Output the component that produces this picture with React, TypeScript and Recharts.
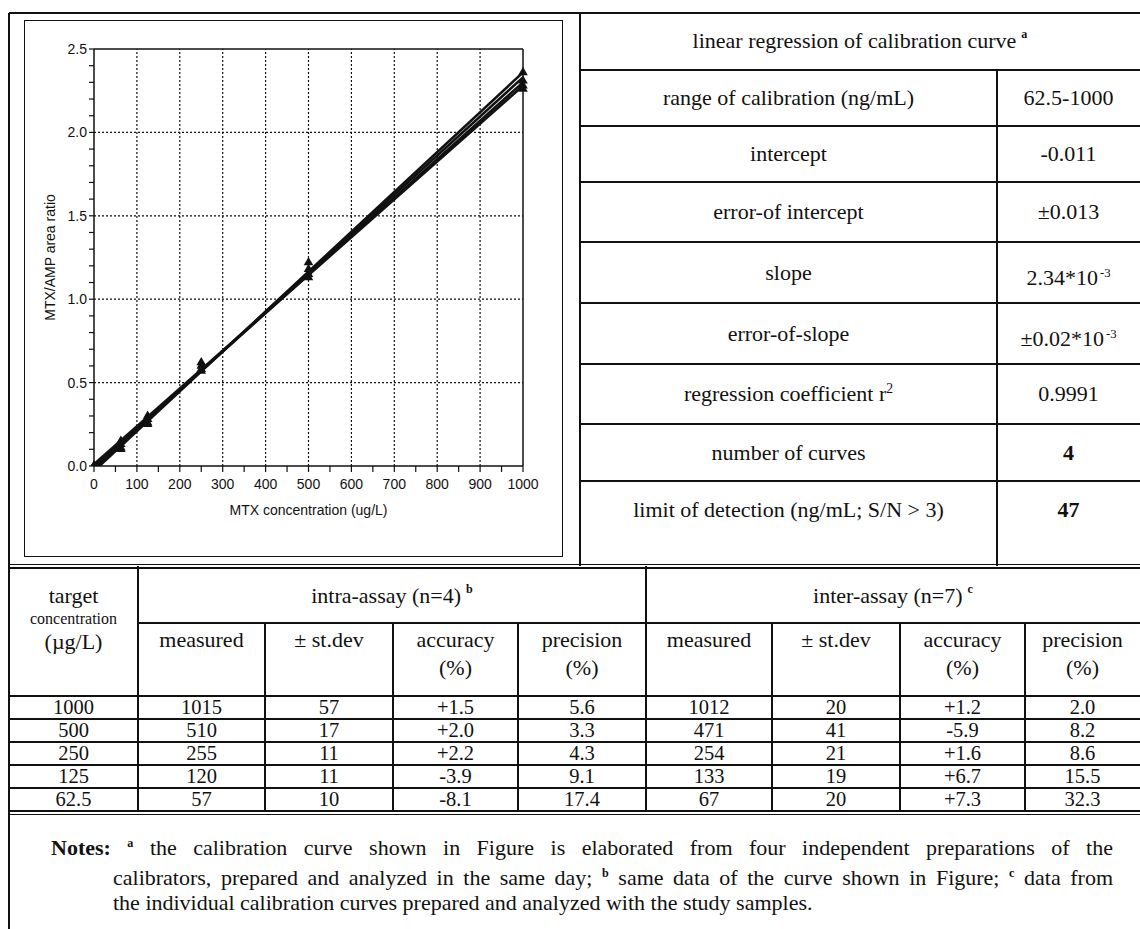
import React from 'react'
import { ComposedChart, Line, Scatter, XAxis, YAxis, ZAxis, ReferenceLine } from 'recharts'

// calibration points: MTX concentration (ug/L) vs MTX/AMP area ratio, four preparations
const concentrations = [0, 62.5, 125, 250, 500, 1000]
const curveA = [0, 0.15, 0.3, 0.62, 1.22, 2.36]
const curveB = [0, 0.13, 0.28, 0.6, 1.18, 2.31]
const curveC = [0, 0.11, 0.26, 0.58, 1.15, 2.28]
const curveD = [0, 0.1, 0.25, 0.57, 1.13, 2.26]

// regression lines of the four curves (ratio at 0 and at 1000 ug/L)
const fitRange = [0, 1000]
const fitA = [-0.03, 2.36]
const fitB = [-0.015, 2.33]
const fitC = [-0.005, 2.3]
const fitD = [0.01, 2.28]

const xTicks = [0, 50, 100, 150, 200, 250, 300, 350, 400, 450, 500, 550, 600, 650, 700, 750, 800, 850, 900, 950, 1000]
const yTicks = [0, 0.1, 0.2, 0.3, 0.4, 0.5, 0.6, 0.7, 0.8, 0.9, 1.0, 1.1, 1.2, 1.3, 1.4, 1.5, 1.6, 1.7, 1.8, 1.9, 2.0, 2.1, 2.2, 2.3, 2.4, 2.5]
const xGrid = [100, 200, 300, 400, 500, 600, 700, 800, 900]
const yGrid = [0.5, 1.0, 1.5, 2.0]

// regression table
const regLabels = ['range of calibration (ng/mL)', 'intercept', 'error-of intercept', 'slope', 'error-of-slope', 'regression coefficient r', 'number of curves', 'limit of detection (ng/mL; S/N > 3)']
const regLabelSups = ['', '', '', '', '', '2', '', '']
const regValues = ['62.5-1000', '-0.011', '\u00b10.013', '2.34*10', '\u00b10.02*10', '0.9991', '4', '47']
const regValueSups = ['', '', '', '-3', '-3', '', '', '']
const regValueBold = [false, false, false, false, false, false, true, true]

// precision / accuracy table
const targets = ['1000', '500', '250', '125', '62.5']
const intraMeasured = ['1015', '510', '255', '120', '57']
const intraSd = ['57', '17', '11', '11', '10']
const intraAccuracy = ['+1.5', '+2.0', '+2.2', '-3.9', '-8.1']
const intraPrecision = ['5.6', '3.3', '4.3', '9.1', '17.4']
const interMeasured = ['1012', '471', '254', '133', '67']
const interSd = ['20', '41', '21', '19', '20']
const interAccuracy = ['+1.2', '-5.9', '+1.6', '+6.7', '+7.3']
const interPrecision = ['2.0', '8.2', '8.6', '15.5', '32.3']

const INK = '#111'
const SERIF = "'Liberation Serif', 'Times New Roman', serif"
const SANS = "'Liberation Sans', Arial, sans-serif"
const FS = 22

const isMajor = (v: number, step: number) => Math.abs(v / step - Math.round(v / step)) < 1e-6

function HLine({ x1, x2, y, w = 1.5 }: { x1: number; x2: number; y: number; w?: number }) {
  return <div style={{ position: 'absolute', left: x1, top: y - w / 2, width: x2 - x1, height: w, background: INK }} />
}

function VLine({ x, y1, y2, w = 1.5 }: { x: number; y1: number; y2: number; w?: number }) {
  return <div style={{ position: 'absolute', left: x - w / 2, top: y1, width: w, height: y2 - y1, background: INK }} />
}

function Box({ x1, x2, y1, y2, children, style }: any) {
  return (
    <div
      style={{
        position: 'absolute', left: x1, top: y1, width: x2 - x1, height: y2 - y1,
        display: 'flex', alignItems: 'center', justifyContent: 'center', textAlign: 'center',
        fontSize: FS, lineHeight: 1, whiteSpace: 'nowrap',
        ...style,
      }}
    >
      {children}
    </div>
  )
}

function CalibrationChart() {
  const fits = [fitA, fitB, fitC, fitD].map(f => fitRange.map((x, i) => ({ x, y: f[i] })))
  const points = [curveA, curveB, curveC, curveD].map(c => concentrations.map((x, i) => ({ x, y: c[i] })))
  const tickStyle = { fill: INK, fontSize: 14, fontFamily: SANS }
  return (
    <ComposedChart width={539} height={537} margin={{ top: 29, right: 40, left: 0, bottom: 0 }}>
      <XAxis
        type="number" dataKey="x" domain={[0, 1000]} ticks={xTicks} interval={0}
        tickFormatter={(v: number) => (isMajor(v, 100) ? String(v) : '')}
        tickSize={6} tickMargin={7} height={91}
        axisLine={{ stroke: INK, strokeWidth: 1.5 }} tickLine={{ stroke: INK, strokeWidth: 1.2 }} tick={tickStyle}
        label={{ value: 'MTX concentration (ug/L)', position: 'insideBottom', offset: 42, fill: INK, fontSize: 14, fontFamily: SANS }}
      />
      <YAxis
        type="number" dataKey="y" domain={[0, 2.5]} allowDataOverflow ticks={yTicks} interval={0}
        tickFormatter={(v: number) => (isMajor(v, 0.5) ? v.toFixed(1) : '')}
        tickSize={5} tickMargin={2} width={70}
        axisLine={{ stroke: INK, strokeWidth: 1.5 }} tickLine={{ stroke: INK, strokeWidth: 1.2 }} tick={tickStyle}
        label={{ value: 'MTX/AMP area ratio', angle: -90, position: 'insideLeft', offset: 26, fill: INK, fontSize: 14, fontFamily: SANS, style: { textAnchor: 'middle' } }}
      />
      <ZAxis range={[40, 40]} />
      {xGrid.map(v => (
        <ReferenceLine key={'gx' + v} x={v} stroke={INK} strokeWidth={1.2} strokeDasharray="2 2" />
      ))}
      {yGrid.map(v => (
        <ReferenceLine key={'gy' + v} y={v} stroke={INK} strokeWidth={1.2} strokeDasharray="2 2" />
      ))}
      <ReferenceLine y={2.5} stroke={INK} strokeWidth={1.5} />
      <ReferenceLine x={1000} stroke={INK} strokeWidth={1.5} />
      {fits.map((d, i) => (
        <Line key={'fit' + i} data={d} dataKey="y" type="linear" stroke={INK} strokeWidth={2.6} dot={false} isAnimationActive={false} />
      ))}
      {points.map((d, i) => (
        <Scatter key={'pts' + i} data={d} dataKey="y" fill={INK} shape="triangle" isAnimationActive={false} />
      ))}
    </ComposedChart>
  )
}

// layout (page pixels)
const regRows = [13, 70, 126, 182, 242, 303, 364, 424, 481, 566]
const colX = [9, 138, 265, 393, 518, 646, 772, 900, 1025, 1140]
const headTop = 566
const headMid = 623
const headBottom = 696
const rowH = 23
const rowFont = 20.5
const notesTop = 831

export default function App() {
  const dataCols = [intraMeasured, intraSd, intraAccuracy, intraPrecision, interMeasured, interSd, interAccuracy, interPrecision]
  const subHeads = [['measured'], ['\u00b1 st.dev'], ['accuracy', '(%)'], ['precision', '(%)']]
  const tableBottom = headBottom + rowH * targets.length
  const sup = (t: string) => <sup style={{ fontSize: '0.55em', fontWeight: 700, marginLeft: 5, position: 'relative', top: -2 }}>{t}</sup>
  const noteSup = (t: string) => <sup style={{ fontSize: '0.55em', fontWeight: 700 }}>{t}</sup>

  return (
    <div style={{ position: 'relative', width: 1140, height: 929, background: '#fff', overflow: 'hidden', fontFamily: SERIF, color: INK }}>
      <style>{'body{margin:0}'}</style>

      {/* outer frame */}
      <HLine x1={9} x2={1140} y={13} />
      <VLine x={9} y1={13} y2={929} />
      <VLine x={580} y1={13} y2={566} />

      {/* chart panel */}
      <div style={{ position: 'absolute', left: 24, top: 20, width: 539, height: 537, border: `1.5px solid ${INK}`, boxSizing: 'border-box' }} />
      <div style={{ position: 'absolute', left: 24, top: 20 }}>
        <CalibrationChart />
      </div>

      {/* regression table */}
      <Box x1={580} x2={1140} y1={regRows[0]} y2={regRows[1]}>
        <span>linear regression of calibration curve{sup('a')}</span>
      </Box>
      {regRows.slice(1, -1).map((y, i) => <HLine key={'rh' + i} x1={580} x2={1140} y={y} />)}
      <VLine x={997} y1={regRows[1]} y2={566} />
      {regLabels.map((lab, i) => {
        const y1 = regRows[i + 1]
        const y2 = i === regLabels.length - 1 ? y1 + 57 : regRows[i + 2]
        return (
          <React.Fragment key={'rl' + i}>
            <Box x1={580} x2={997} y1={y1} y2={y2}>
              <span>
                {lab}
                {regLabelSups[i] && <sup style={{ fontSize: '0.62em' }}>{regLabelSups[i]}</sup>}
              </span>
            </Box>
            <Box x1={997} x2={1140} y1={y1} y2={y2} style={{ fontWeight: regValueBold[i] ? 700 : 400 }}>
              <span style={{ position: 'relative', top: regValueSups[i] ? 6 : 0 }}>
                {regValues[i]}
                {regValueSups[i] && <sup style={{ fontSize: '0.58em', marginLeft: 2 }}>{regValueSups[i]}</sup>}
              </span>
            </Box>
          </React.Fragment>
        )
      })}

      {/* double rule between sections */}
      <HLine x1={9} x2={1140} y={564.5} />
      <HLine x1={9} x2={1140} y={568} />

      {/* precision table header */}
      <VLine x={colX[1]} y1={headTop} y2={tableBottom} />
      <VLine x={colX[5]} y1={headTop} y2={tableBottom} />
      {[2, 3, 4, 6, 7, 8].map(c => <VLine key={'cv' + c} x={colX[c]} y1={headMid} y2={tableBottom} />)}
      <HLine x1={colX[1]} x2={1140} y={headMid} />
      <HLine x1={9} x2={1140} y={headBottom} />

      <Box x1={colX[0]} x2={colX[1]} y1={585} y2={607}>target</Box>
      <Box x1={colX[0]} x2={colX[1]} y1={610} y2={628} style={{ fontSize: 16 }}>concentration</Box>
      <Box x1={colX[0]} x2={colX[1]} y1={631} y2={653}>({'\u00b5'}g/L)</Box>
      <Box x1={colX[1]} x2={colX[5]} y1={headTop} y2={headMid} style={{ paddingTop: 4, boxSizing: 'border-box' }}>
        <span>intra-assay (n=4){sup('b')}</span>
      </Box>
      <Box x1={colX[5]} x2={colX[9]} y1={headTop} y2={headMid} style={{ paddingTop: 4, boxSizing: 'border-box' }}>
        <span>inter-assay (n=7){sup('c')}</span>
      </Box>
      {[0, 1, 2, 3, 4, 5, 6, 7].map(c =>
        subHeads[c % 4].map((t, k) => (
          <Box key={'sh' + c + k} x1={colX[c + 1]} x2={colX[c + 2]} y1={629 + k * 28} y2={651 + k * 28}>{t}</Box>
        ))
      )}

      {/* precision table rows */}
      {targets.map((t, r) => {
        const y1 = headBottom + r * rowH
        return (
          <React.Fragment key={'row' + r}>
            {r > 0 && <HLine x1={9} x2={1140} y={y1} />}
            <Box x1={colX[0]} x2={colX[1]} y1={y1} y2={y1 + rowH} style={{ fontSize: rowFont }}>{t}</Box>
            {dataCols.map((col, c) => (
              <Box key={'c' + c} x1={colX[c + 1]} x2={colX[c + 2]} y1={y1} y2={y1 + rowH} style={{ fontSize: rowFont }}>{col[r]}</Box>
            ))}
          </React.Fragment>
        )
      })}
      <HLine x1={9} x2={1140} y={tableBottom} />
      <HLine x1={9} x2={1140} y={tableBottom + 3.5} />

      {/* notes */}
      <div style={{ position: 'absolute', left: 51, top: notesTop, width: 1062, fontSize: FS, lineHeight: '24.5px' }}>
        <div style={{ textAlign: 'justify', textAlignLast: 'justify', whiteSpace: 'nowrap' }}>
          <b>Notes:</b> {noteSup('a')} the calibration curve shown in Figure is elaborated from four independent preparations of the
        </div>
        <div style={{ paddingLeft: 62, textAlign: 'justify', textAlignLast: 'justify' }}>
          calibrators, prepared and analyzed in the same day; {noteSup('b')} same data of the curve shown in Figure; {noteSup('c')} data from
        </div>
        <div style={{ paddingLeft: 62 }}>
          the individual calibration curves prepared and analyzed with the study samples.
        </div>
      </div>
    </div>
  )
}
